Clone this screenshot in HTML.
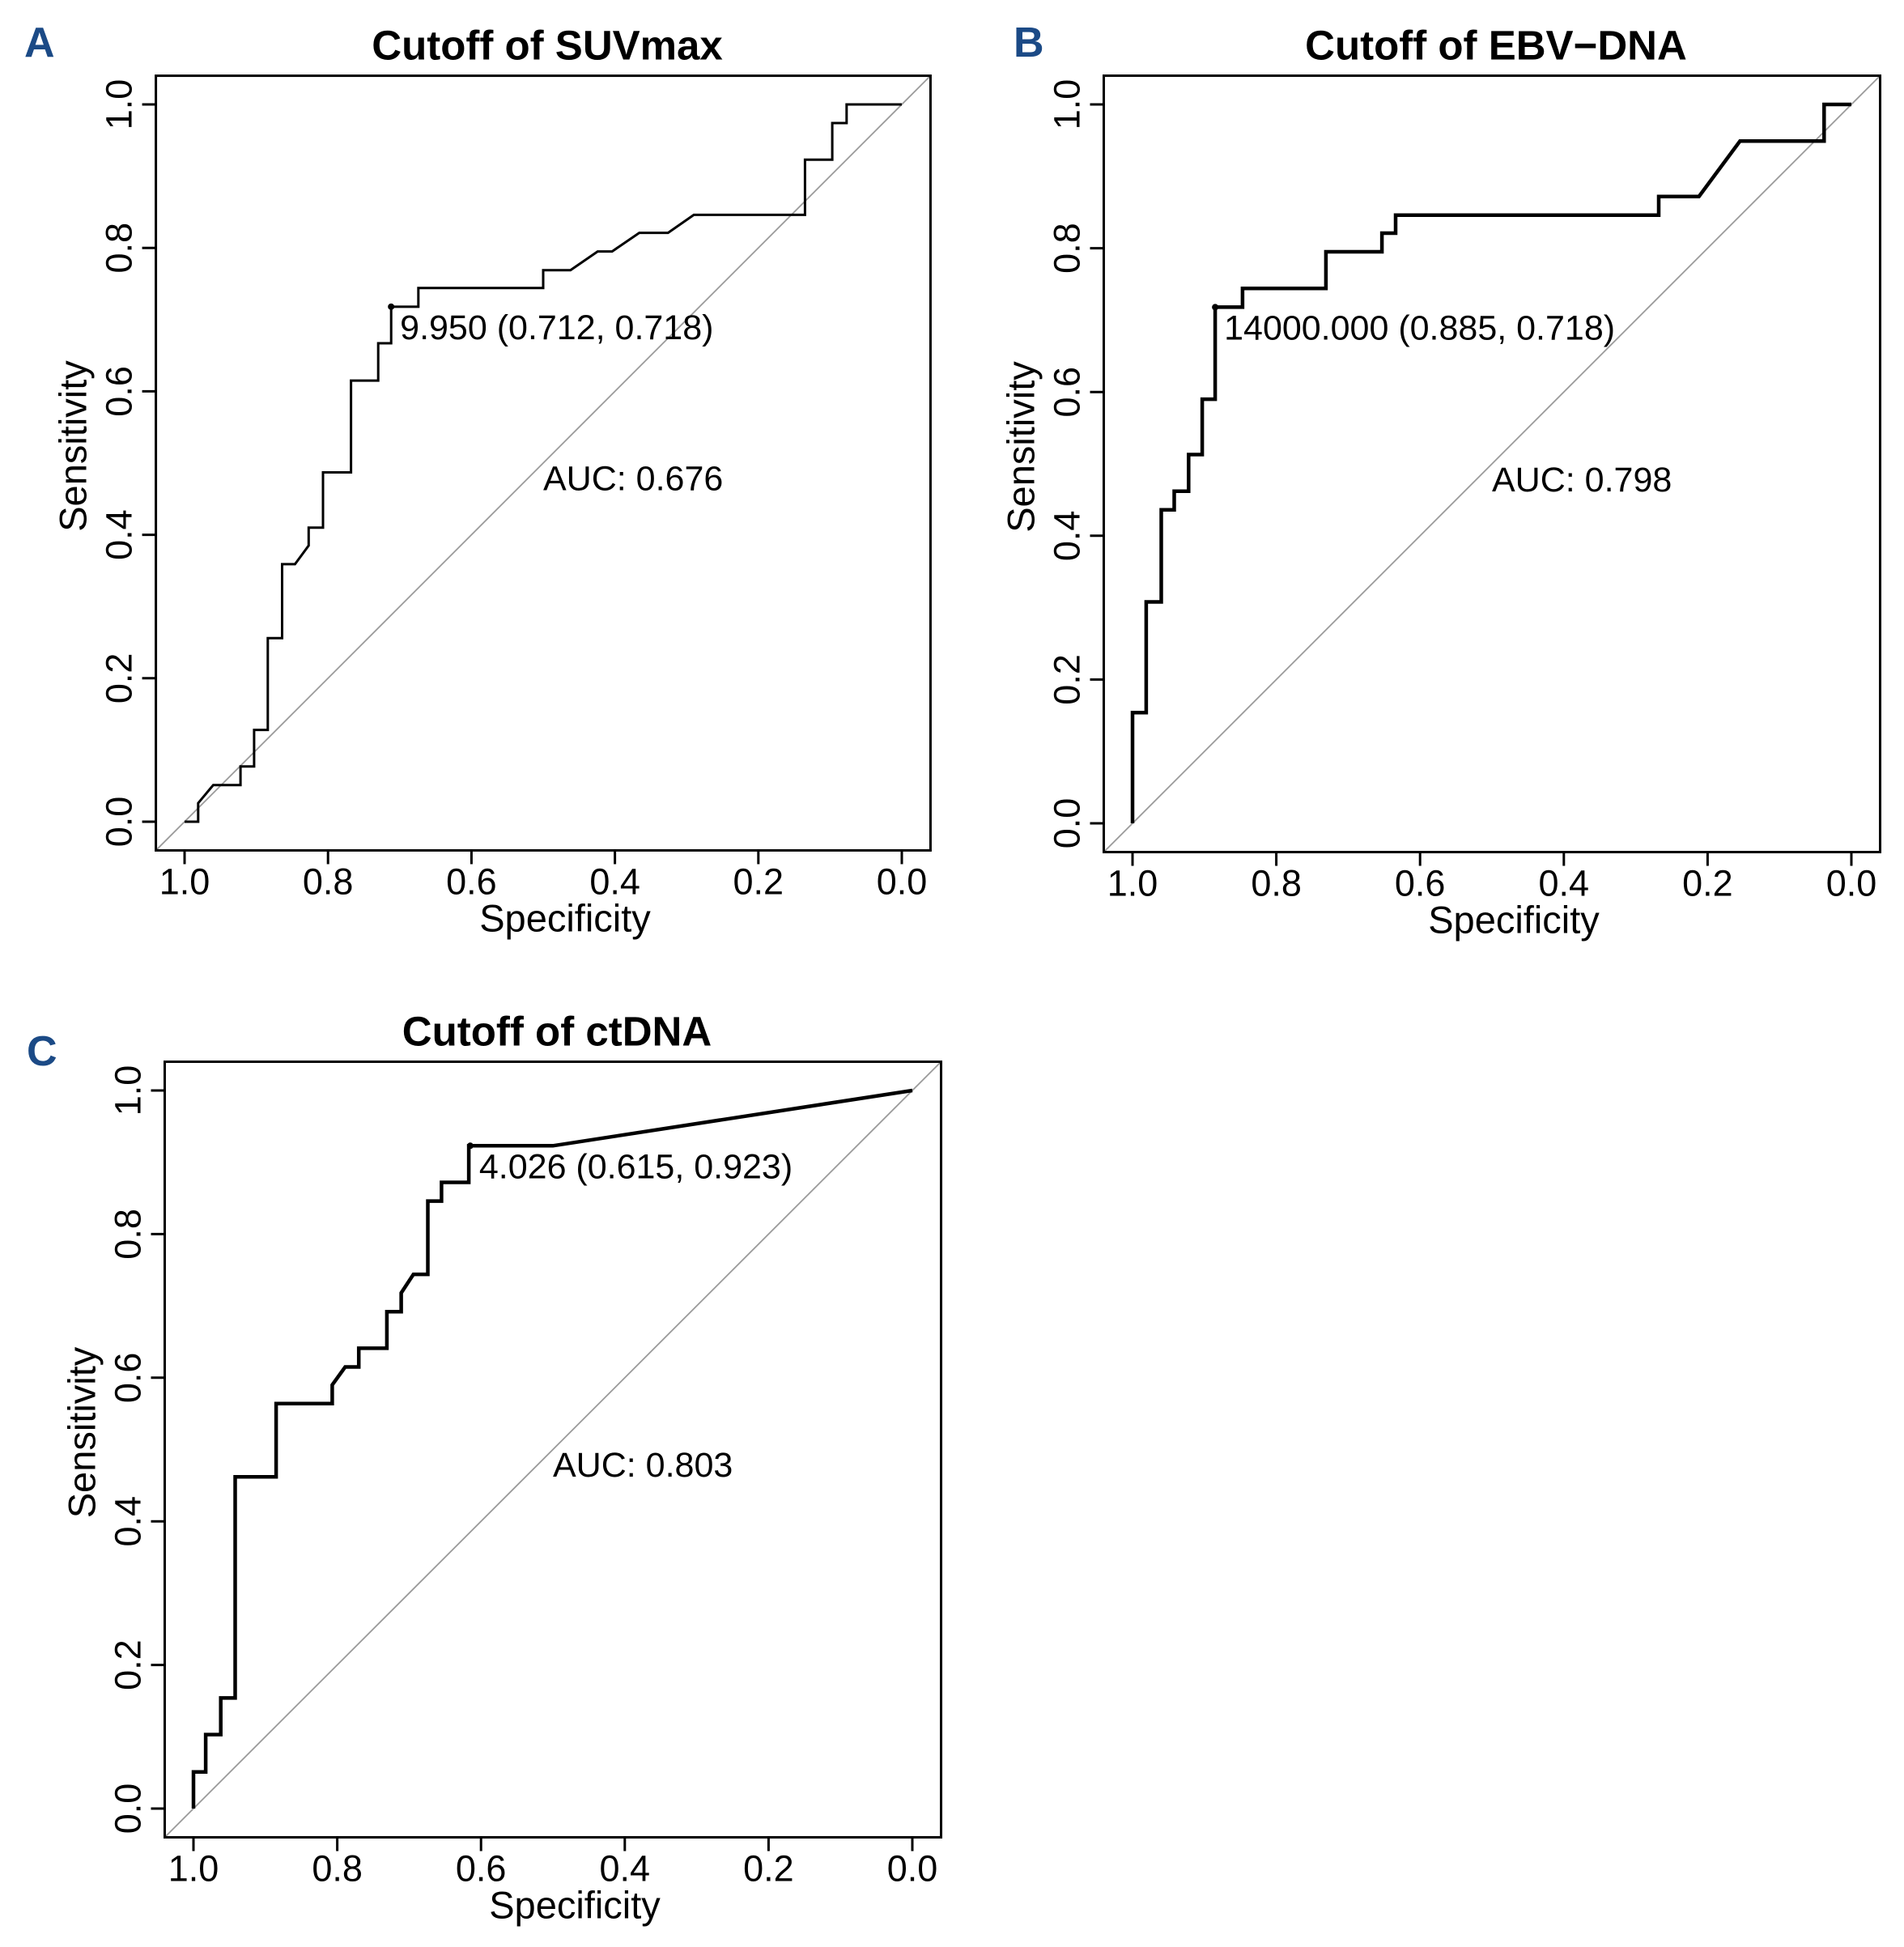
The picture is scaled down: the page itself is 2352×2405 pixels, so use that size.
<!DOCTYPE html>
<html><head><meta charset="utf-8">
<style>
html,body{margin:0;padding:0;background:#fff;}
svg{display:block;}
text{font-family:"Liberation Sans",Arial,sans-serif;fill:#000;}
</style></head>
<body>
<svg id="fig" width="2352" height="2405" viewBox="0 0 2352 2405" xmlns="http://www.w3.org/2000/svg"></svg>
<script>
// ROC curve vertices (specificity, sensitivity)
const specA = [1,0.981,0.981,0.960,0.922,0.922,0.903,0.903,0.884,0.884,0.864,0.864,0.846,0.827,0.827,0.807,0.807,0.768,0.768,0.730,0.730,0.712,0.712,0.674,0.674,0.500,0.500,0.462,0.424,0.404,0.366,0.326,0.290,0.135,0.135,0.097,0.097,0.077,0.077,0];
const sensA = [0,0,0.026,0.051,0.051,0.077,0.077,0.128,0.128,0.256,0.256,0.359,0.359,0.385,0.410,0.410,0.487,0.487,0.615,0.615,0.667,0.667,0.718,0.718,0.744,0.744,0.769,0.769,0.795,0.795,0.821,0.821,0.846,0.846,0.923,0.923,0.974,0.974,1,1];
const specB = [1,1,0.981,0.981,0.960,0.960,0.942,0.942,0.922,0.922,0.903,0.903,0.885,0.885,0.847,0.847,0.731,0.731,0.653,0.653,0.634,0.634,0.268,0.268,0.212,0.155,0.038,0.038,0];
const sensB = [0,0.154,0.154,0.308,0.308,0.436,0.436,0.462,0.462,0.513,0.513,0.590,0.590,0.718,0.718,0.744,0.744,0.795,0.795,0.821,0.821,0.846,0.846,0.872,0.872,0.949,0.949,1,1];
const specC = [1,1,0.983,0.983,0.962,0.962,0.942,0.942,0.885,0.885,0.807,0.807,0.789,0.770,0.770,0.731,0.731,0.711,0.711,0.694,0.674,0.674,0.655,0.655,0.617,0.617,0.500,0];
const sensC = [0,0.051,0.051,0.103,0.103,0.154,0.154,0.462,0.462,0.564,0.564,0.590,0.615,0.615,0.641,0.641,0.692,0.692,0.718,0.744,0.744,0.846,0.846,0.872,0.872,0.923,0.923,1];
const cutSpec = [0.712, 0.885, 0.615];
const cutSens = [0.718, 0.718, 0.923];
const cutLabels = ["9.950 (0.712, 0.718)", "14000.000 (0.885, 0.718)", "4.026 (0.615, 0.923)"];
const aucLabels = ["AUC: 0.676", "AUC: 0.798", "AUC: 0.803"];
const titles = ["Cutoff of SUVmax", "Cutoff of EBV\u2212DNA", "Cutoff of ctDNA"];
const letters = ["A", "B", "C"];
const ticks = [1.0, 0.8, 0.6, 0.4, 0.2, 0.0];
const tickLabels = ["1.0", "0.8", "0.6", "0.4", "0.2", "0.0"];

const NS = "http://www.w3.org/2000/svg";
const svg = document.getElementById("fig");
function mk(tag, attrs, parent, txt) {
  const e = document.createElementNS(NS, tag);
  for (const k in attrs) e.setAttribute(k, attrs[k]);
  if (txt !== undefined) e.textContent = txt;
  parent.appendChild(e);
  return e;
}
const layouts = [
  {x1: 228, x0: 1114, y1: 129, y0: 1015, lx: 30, ly: 70, lw: 3},
  {x1: 1399, x0: 2287, y1: 129, y0: 1017, lx: 1252, ly: 70, lw: 4.5},
  {x1: 239, x0: 1127, y1: 1347, y0: 2234, lx: 33, ly: 1316, lw: 4.5}
];
const specs = [specA, specB, specC];
const senss = [sensA, sensB, sensC];
const keys = ["suvmax", "ebv-dna", "ctdna"];

layouts.forEach((L, i) => {
  const sx = s => L.x0 + (L.x1 - L.x0) * s;
  const sy = v => L.y0 - (L.y0 - L.y1) * v;
  const g = mk("g", {}, svg);
  
  
  const ext = (L.x0 - L.x1) * 0.04;
  const bx = L.x1 - ext, bx2 = L.x0 + ext, by = L.y1 - ext, by2 = L.y0 + ext;

  const lt = mk("text", {x: L.lx, y: L.ly, "font-size": 52, "font-weight": "bold", style: "fill:#1b4a86"}, g, letters[i]);
  
  
  const tt = mk("text", {x: (bx + bx2) / 2 + 5, y: by - 20, "font-size": 51, "font-weight": "bold", "text-anchor": "middle"}, g, titles[i]);
  
  

  const dg = mk("line", {x1: sx(1.04), y1: sy(-0.04), x2: sx(-0.04), y2: sy(1.04), stroke: "#9a9a9a", "stroke-width": 1.8}, g);
  
  

  const rb = mk("rect", {x: bx, y: by, width: bx2 - bx, height: by2 - by, fill: "none", stroke: "#000", "stroke-width": 3}, g);
  
  

  ticks.forEach((t, k) => {
    const xt = mk("line", {x1: sx(t), y1: by2, x2: sx(t), y2: by2 + 17, stroke: "#000", "stroke-width": 3}, g);
    
    
    const xl = mk("text", {x: sx(t), y: by2 + 54, "font-size": 45, "text-anchor": "middle"}, g, tickLabels[k]);
    
    
    const yt = mk("line", {x1: bx - 17, y1: sy(t), x2: bx, y2: sy(t), stroke: "#000", "stroke-width": 3}, g);
    
    
    const yx = bx - 30;
    const yl = mk("text", {x: yx, y: sy(t), "font-size": 45, "text-anchor": "middle", transform: `rotate(-90 ${yx} ${sy(t)})`}, g, tickLabels[k]);
    
    
  });
  const xa = mk("text", {x: (bx + bx2) / 2 + 27, y: by2 + 100, "font-size": 47, "text-anchor": "middle"}, g, "Specificity");
  
  
  const ycx = bx - 86, ycy = (by + by2) / 2 - 21;
  const ya = mk("text", {x: ycx, y: ycy, "font-size": 47, "text-anchor": "middle", transform: `rotate(-90 ${ycx} ${ycy})`}, g, "Sensitivity");
  
  

  const pts = specs[i].map((s, k) => sx(s).toFixed(1) + "," + sy(senss[i][k]).toFixed(1)).join(" ");
  const pl = mk("polyline", {points: pts, fill: "none", stroke: "#000", "stroke-width": L.lw, "stroke-linejoin": "miter"}, g);
  
  

  const cx = sx(cutSpec[i]), cy = sy(cutSens[i]);
  const pt = mk("circle", {cx: cx, cy: cy, r: 4, fill: "#000"}, g);
  
  
  const cl = mk("text", {x: cx + 11, y: cy + 40, "font-size": 43}, g, cutLabels[i]);
  
  
  const al = mk("text", {x: sx(0.5), y: sy(0.48) + 16, "font-size": 43}, g, aucLabels[i]);
  
  
});
</script>
</body></html>
